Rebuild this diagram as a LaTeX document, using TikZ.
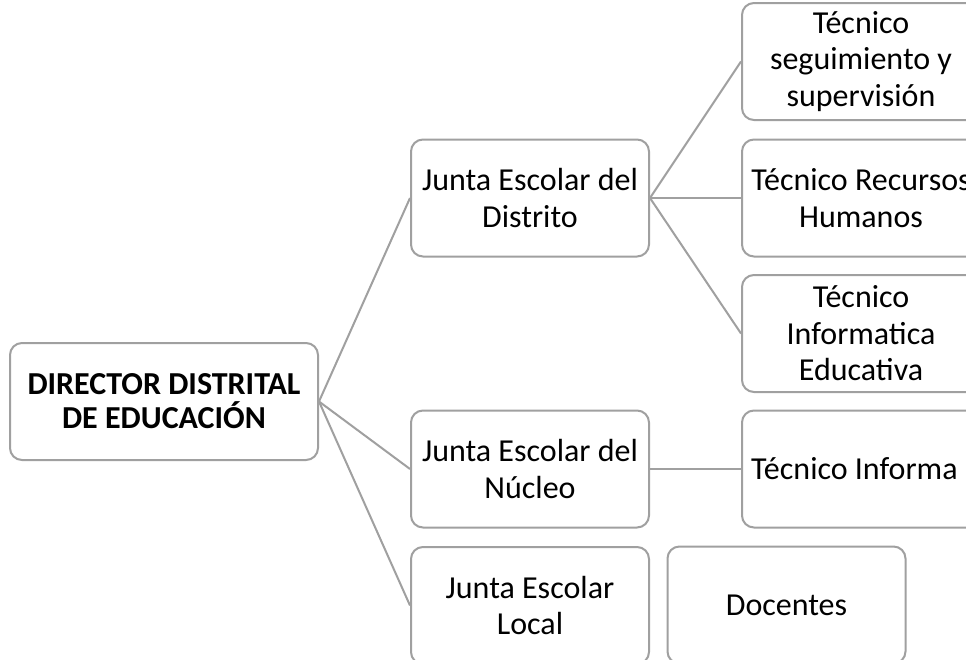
\documentclass[tikz,border=0pt]{standalone}
\usepackage{fontspec}
\setmainfont{Carlito}
\definecolor{boxgray}{RGB}{160,160,160}
\tikzset{
  orgbox/.style={draw=boxgray, line width=2pt, rounded corners=12pt, fill=white,
    minimum width=238pt, minimum height=117pt, align=center, inner sep=2pt,
    font=\fontsize{32}{36.5}\selectfont},
  link/.style={draw=boxgray, line width=2pt}
}
\begin{document}
\begin{tikzpicture}[x=1pt,y=-1pt]
\useasboundingbox (0,0) rectangle (966,659);
\clip (0,0) rectangle (966,659);
\fill[white] (0,0) rectangle (966,659);
\node[orgbox, minimum width=308pt, font=\fontsize{32}{34}\selectfont\bfseries] (dir) at (164,401.5) {DIRECTOR DISTRITAL\\DE EDUCACIÓN};
\node[orgbox] (jd) at (530,198) {Junta Escolar del\\Distrito};
\node[orgbox] (jn) at (530,469) {Junta Escolar del\\Núcleo};
\node[orgbox] (jl) at (530,605.5) {Junta Escolar\\Local};
\node[orgbox] (t1) at (861,61.5) {Técnico\\seguimiento y\\supervisión};
\node[orgbox] (t2) at (861,198) {Técnico Recursos\\Humanos};
\node[orgbox] (t3) at (861,333.5) {Técnico\\Informatica\\Educativa};
\node[orgbox] (t4) at (861,469) {};
\node[anchor=west, inner sep=0pt, font=\fontsize{32}{36.5}\selectfont] (t4text) at ([xshift=10pt]t4.west) {Técnico Informa};
\node[orgbox] (doc) at (786.5,605) {Docentes};
\draw[link] (dir.east) -- (jd.west);
\draw[link] (dir.east) -- (jn.west);
\draw[link] (dir.east) -- (jl.west);
\draw[link] (jd.east) -- (t1.west);
\draw[link] (jd.east) -- (t2.west);
\draw[link] (jd.east) -- (t3.west);
\draw[link] (jn.east) -- (t4.west);
\end{tikzpicture}
\end{document}
